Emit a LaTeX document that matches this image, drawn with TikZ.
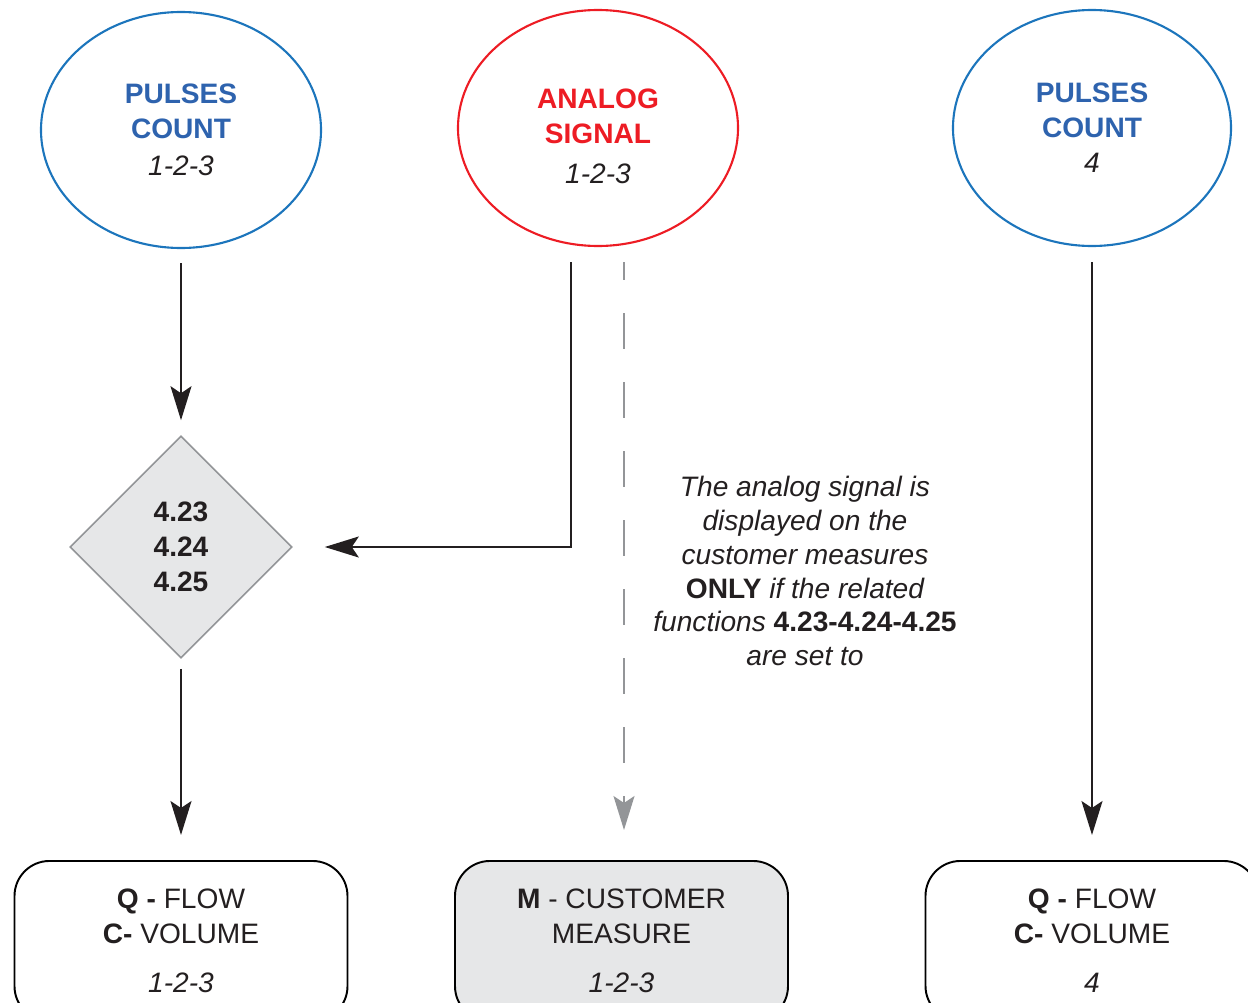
\documentclass[tikz,border=0pt]{standalone}
\usepackage{fontspec}
\setmainfont{Liberation Sans}
\usepackage{xcolor}
\usetikzlibrary{calc}
\usetikzlibrary{shapes.geometric}
\usetikzlibrary{arrows.meta}
\definecolor{pblue}{HTML}{1C75BC}
\definecolor{ptext}{HTML}{2E63AE}
\definecolor{ared}{HTML}{ED1C24}
\definecolor{lgray}{HTML}{E6E7E8}
\definecolor{mgray}{HTML}{939598}
\definecolor{ink}{HTML}{231F20}
\begin{document}
\begin{tikzpicture}[scale = 1]
				    \tikzstyle{every node}=[text=ink,font=\fontsize{16}{20}\selectfont]
				    \tikzstyle{source}=[draw,ellipse,line width = 1.2pt,minimum width=5.6cm,minimum height=4.72cm,inner sep=0pt,align=center]
				    \tikzstyle{arr}=[draw,line width = 1.1pt,ink,-{Stealth[length=0.68cm,width=0.42cm,inset=0.14cm]}]
				    \tikzstyle{darr}=[draw,line width = 1.1pt,mgray,dash pattern=on 0.72cm off 0.66cm,dash phase=0.36cm,-{Stealth[length=0.68cm,width=0.42cm,inset=0.14cm]}]
				    \tikzstyle{result}=[draw,line width = 1.1pt,rounded corners=0.7cm,minimum width=6.66cm,anchor=north,inner ysep=0.56cm,align=center]
				    \useasboundingbox (0,0) rectangle (24.96,-20.06);
				    \node[source,draw=pblue] (pl) at (3.62,-2.60) {\raisebox{-0.04cm}[\height][\depth]{\begin{tabular}{@{}c@{}}\textcolor{ptext}{\bfseries PULSES}\\\textcolor{ptext}{\bfseries COUNT}\\[1pt]\textit{1-2-3}\end{tabular}}};
				    \node[source,draw=ared] (an) at (11.96,-2.56) {\raisebox{-0.22cm}[\height][\depth]{\begin{tabular}{@{}c@{}}\textcolor{ared}{\bfseries ANALOG}\\\textcolor{ared}{\bfseries SIGNAL}\\[3pt]\textit{1-2-3}\end{tabular}}};
				    \node[source,draw=pblue,minimum width=5.56cm] (pr) at (21.84,-2.56) {\textcolor{ptext}{\bfseries PULSES}\\\textcolor{ptext}{\bfseries COUNT}\\\textit{4}};
				    \node[draw=mgray,diamond,aspect=1,fill=lgray,line width = 0.9pt,minimum width=4.44cm,minimum height=4.44cm,inner sep=0pt,align=center] (fn) at (3.62,-10.94) {\bfseries 4.23\\\bfseries 4.24\\\bfseries 4.25};
				    \node[result] (ql) at (3.62,-17.2) {\textbf{Q -} FLOW\\\textbf{C-} VOLUME\\[0.28cm]\textit{1-2-3}};
				    \node[result,fill=lgray] (cm) at (12.43,-17.2) {\textbf{M} - CUSTOMER\\MEASURE\\[0.28cm]\textit{1-2-3}};
				    \node[result] (qr) at (21.84,-17.2) {\textbf{Q -} FLOW\\\textbf{C-} VOLUME\\[0.28cm]\textit{4}};
				    \node[align=center,font=\fontsize{16}{19.3}\selectfont\itshape] (note) at (16.1,-11.42) {The analog signal is\\displayed on the\\customer measures\\\textup{\bfseries ONLY} if the related\\functions \textup{\bfseries 4.23-4.24-4.25}\\are set to};
				    \coordinate (a1) at (11.42,-5.24);
				    \coordinate (d1) at (12.48,-5.24);
				    \draw[arr,shorten <=0.28cm,shorten >=0.3cm] (pl.south) -- (fn.north);
				    \draw[arr,shorten <=0.2cm,shorten >=0.5cm] (fn.south) -- (ql.north);
				    \draw[arr,shorten >=0.64cm] (a1) |- (fn.east);
				    \draw[darr,shorten >=0.6cm] (d1) -- (d1 |- cm.north);
				    \draw[arr,shorten <=0.3cm,shorten >=0.5cm] (pr.south) -- (qr.north);
				\end{tikzpicture}
\end{document}
